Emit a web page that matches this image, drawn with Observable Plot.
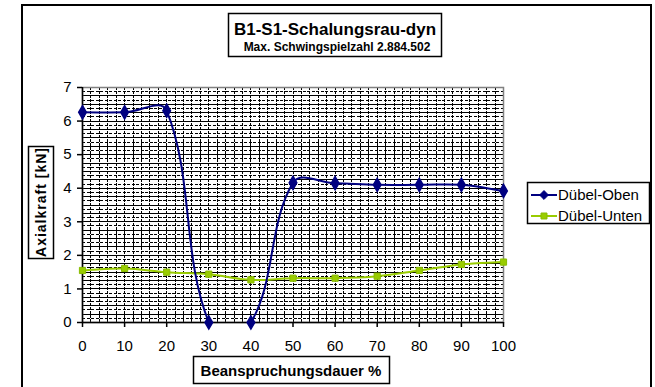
<!DOCTYPE html>
<html>
<head>
<meta charset="utf-8">
<script src="https://cdn.jsdelivr.net/npm/d3@7"></script>
<script src="https://cdn.jsdelivr.net/npm/@observablehq/plot@0.6"></script>
<style>
  html, body { margin: 0; padding: 0; background: #fff; }
  #chart { position: relative; width: 655px; height: 387px; overflow: hidden; }
</style>
</head>
<body>
<div id="chart"></div>
<script>
const titleText = "B1-S1-Schalungsrau-dyn";
const subtitleText = "Max. Schwingspielzahl 2.884.502";
const xLabel = "Beanspruchungsdauer %";
const yLabel = "Axialkraft [kN]";
const seriesNames = ["Dübel-Oben", "Dübel-Unten"];
const seriesColors = ["#000080", "#99CC00"];
const xValues = [0, 10, 20, 30, 40, 50, 60, 70, 80, 90, 100];
const obenValues = [6.26, 6.26, 6.31, 0, 0, 4.16, 4.15, 4.1, 4.1, 4.1, 3.92];
const untenValues = [1.55, 1.61, 1.5, 1.44, 1.27, 1.32, 1.32, 1.38, 1.55, 1.73, 1.8];
const xTicks = [0, 10, 20, 30, 40, 50, 60, 70, 80, 90, 100];
const yTicks = [0, 1, 2, 3, 4, 5, 6, 7];

const oben = xValues.map((x, i) => ({x, y: obenValues[i]}));
const unten = xValues.map((x, i) => ({x, y: untenValues[i]}));
const hMajor = d3.range(0.25, 7, 0.25);
const hMinor = d3.range(0.125, 7, 0.25);
const vGrid = d3.range(2, 100, 2);

// Excel-like smoothed line: Bezier segments with distance-weighted tangents (in screen space)
function ExcelCurve(context) { this._context = context; }
ExcelCurve.prototype = {
  areaStart() { this._line = 0; },
  areaEnd() { this._line = NaN; },
  lineStart() { this._pts = []; },
  point(x, y) { this._pts.push([+x, +y]); },
  lineEnd() {
    const p = this._pts, n = p.length, c = this._context;
    if (!n) return;
    const k = 0.38;
    const dist = (a, b) => Math.hypot(b[0] - a[0], b[1] - a[1]);
    c.moveTo(p[0][0], p[0][1]);
    for (let i = 0; i < n - 1; i++) {
      const p0 = p[Math.max(i - 1, 0)], p1 = p[i], p2 = p[i + 1], p3 = p[Math.min(i + 2, n - 1)];
      const d01 = dist(p0, p1), d12 = dist(p1, p2), d23 = dist(p2, p3);
      const f1 = (d01 + d12) > 0 ? d12 / (d01 + d12) * k : 0;
      const f2 = (d12 + d23) > 0 ? d12 / (d12 + d23) * k : 0;
      c.bezierCurveTo(
        p1[0] + (p2[0] - p0[0]) * f1, p1[1] + (p2[1] - p0[1]) * f1,
        p2[0] - (p3[0] - p1[0]) * f2, p2[1] - (p3[1] - p1[1]) * f2,
        p2[0], p2[1]);
    }
  }
};
const curveExcel = (ctx) => new ExcelCurve(ctx);

const W = 655, H = 387;
const font = "'Liberation Sans', Arial, sans-serif";
const chart = Plot.plot({
  width: W, height: H,
  marginLeft: 82, marginRight: 152, marginTop: 87, marginBottom: 65,
  style: {fontFamily: font, fontSize: "15px", color: "#000", background: "#fff"},
  x: {domain: [0, 100], label: null},
  y: {domain: [0, 7], label: null},
  marks: [
    Plot.ruleY(hMinor, {stroke: "#000", strokeWidth: 1, strokeDasharray: "3,1.5", shapeRendering: "crispEdges"}),
    Plot.ruleY(hMajor, {stroke: "#000", strokeWidth: 1, shapeRendering: "crispEdges"}),
    Plot.ruleX(vGrid, {stroke: "#000", strokeWidth: 1, strokeDasharray: "3,1", shapeRendering: "crispEdges"}),
    Plot.frame({stroke: "#808080", strokeWidth: 1.5}),
    Plot.ruleX([0], {stroke: "#000", strokeWidth: 1.5}),
    Plot.ruleY([0], {stroke: "#000", strokeWidth: 1.5}),
    Plot.axisX({ticks: xTicks, tickSize: 5, tickPadding: 13, fontSize: 15, label: null, tickFormat: d => String(d), stroke: "#000", strokeWidth: 1.5}),
    Plot.axisY({ticks: yTicks, tickSize: 5, tickPadding: 6, fontSize: 15, label: null, tickFormat: d => String(d), stroke: "#000", strokeWidth: 1.5}),
    Plot.line(unten, {x: "x", y: "y", stroke: seriesColors[1], strokeWidth: 2, curve: curveExcel, clip: true}),
    Plot.line(oben, {x: "x", y: "y", stroke: seriesColors[0], strokeWidth: 2, curve: curveExcel, clip: true}),
    Plot.dot(unten, {x: "x", y: "y", symbol: "square", r: 3.5, fill: seriesColors[1], stroke: "#88bb00", strokeWidth: 1}),
    Plot.dot(oben, {x: "x", y: "y", symbol: "diamond", r: 4, fill: seriesColors[0], stroke: seriesColors[0]})
  ]
});
document.getElementById("chart").appendChild(chart);

const svg = d3.select(chart);
const ann = svg.append("g").attr("text-anchor", "start").attr("font-family", font);
// outer chart border
ann.append("rect").attr("x", 22).attr("y", 5).attr("width", 629).attr("height", 400)
  .attr("fill", "none").attr("stroke", "#000").attr("stroke-width", 2);
// title box
ann.append("rect").attr("x", 228.5).attr("y", 13.5).attr("width", 213).attr("height", 43)
  .attr("fill", "#fff").attr("stroke", "#000").attr("stroke-width", 1.5);
ann.append("text").attr("x", 335).attr("y", 35).attr("text-anchor", "middle")
  .attr("font-weight", "bold").attr("font-size", 17).attr("fill", "#000").text(titleText);
ann.append("text").attr("x", 337).attr("y", 51).attr("text-anchor", "middle")
  .attr("font-weight", "bold").attr("font-size", 12).attr("fill", "#000").text(subtitleText);
// y label box
ann.append("rect").attr("x", 28.5).attr("y", 146.5).attr("width", 25).attr("height", 112)
  .attr("fill", "#fff").attr("stroke", "#000").attr("stroke-width", 1.5);
ann.append("text").attr("transform", "translate(46,202) rotate(-90)").attr("text-anchor", "middle")
  .attr("font-weight", "bold").attr("font-size", 14).attr("letter-spacing", 1).attr("fill", "#000").text(yLabel);
// x label box
ann.append("rect").attr("x", 193.5).attr("y", 356.5).attr("width", 196).attr("height", 27)
  .attr("fill", "#fff").attr("stroke", "#000").attr("stroke-width", 1.5);
ann.append("text").attr("x", 291).attr("y", 376).attr("text-anchor", "middle")
  .attr("font-weight", "bold").attr("font-size", 15).attr("fill", "#000").text(xLabel);
// legend
ann.append("rect").attr("x", 527.5).attr("y", 182.5).attr("width", 122).attr("height", 41)
  .attr("fill", "#fff").attr("stroke", "#000").attr("stroke-width", 1.5);
const sym = [d3.symbol(d3.symbolDiamond2 || d3.symbolDiamond, 50), d3.symbol(d3.symbolSquare2 || d3.symbolSquare, 45)];
seriesNames.forEach((name, i) => {
  const cy = 195 + i * 21;
  ann.append("line").attr("x1", 531).attr("x2", 557).attr("y1", cy).attr("y2", cy)
    .attr("stroke", seriesColors[i]).attr("stroke-width", 2);
  ann.append("path").attr("d", sym[i]()).attr("transform", `translate(544,${cy})`)
    .attr("fill", seriesColors[i]).attr("stroke", i === 0 ? seriesColors[0] : "#88bb00");
  ann.append("text").attr("x", 558).attr("y", cy + 5).attr("text-anchor", "start")
    .attr("font-size", 15).attr("fill", "#000").text(name);
});
</script>
</body>
</html>
